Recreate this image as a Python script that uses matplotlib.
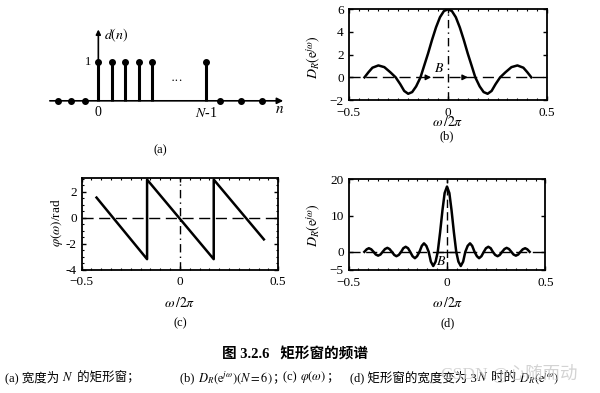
import numpy as np
import matplotlib.pyplot as plt
from matplotlib.ticker import MultipleLocator
from matplotlib.offsetbox import TextArea, HPacker, AnnotationBbox

plt.rcParams['font.family'] = ['Liberation Serif', 'Noto Sans CJK SC']
plt.rcParams['mathtext.fontset'] = 'stix'

# (a) 矩形窗序列 d(n)
n_on = [0, 1, 2, 3, 4, 8]
d_on = [1, 1, 1, 1, 1, 1]
n_off = [-3, -2, -1, 9, 10.6, 12.1]
d_off = [0, 0, 0, 0, 0, 0]

# (b) D_R(e^jw), N=6
wb = [-0.42, -0.40, -0.38, -0.35, -0.32, -0.29, -0.263, -0.24, -0.22, -0.20,
      -0.18, -0.16, -0.138, -0.12, -0.10, -0.08, -0.06, -0.04, -0.02, 0.0,
      0.02, 0.04, 0.06, 0.08, 0.10, 0.12, 0.138, 0.16, 0.18, 0.20,
      0.22, 0.24, 0.263, 0.29, 0.32, 0.35, 0.38, 0.40, 0.42]
Db = [0, 0.45, 0.85, 1.05, 0.9, 0.45, 0, -0.6, -1.2, -1.45,
      -1.3, -0.8, 0, 1.0, 2.1, 3.3, 4.4, 5.3, 5.85, 6.0,
      5.85, 5.3, 4.4, 3.3, 2.1, 1.0, 0, -0.8, -1.3, -1.45,
      -1.2, -0.6, 0, 0.45, 0.9, 1.05, 0.85, 0.45, 0]

# (c) 相位 phi(w)
wc = [-0.424, -0.167, -0.167, 0.172, 0.172, 0.427]
phic = [1.56, -3.2, 2.95, -3.2, 2.95, -1.67]

# (d) D_R(e^jw), 宽度 3N
wd = [-0.420, -0.408, -0.397, -0.385, -0.373, -0.362, -0.350, -0.338, -0.327,
      -0.315, -0.303, -0.292, -0.280, -0.268, -0.257, -0.245, -0.233, -0.222,
      -0.210, -0.198, -0.187, -0.175, -0.163, -0.152, -0.140, -0.128, -0.117,
      -0.105, -0.093, -0.082, -0.070, -0.058, -0.047, -0.035, -0.023, -0.012,
      0.0,
      0.012, 0.023, 0.035, 0.047, 0.058, 0.070, 0.082, 0.093, 0.105,
      0.117, 0.128, 0.140, 0.152, 0.163, 0.175, 0.187, 0.198, 0.210,
      0.222, 0.233, 0.245, 0.257, 0.268, 0.280, 0.292, 0.303, 0.315,
      0.327, 0.338, 0.350, 0.362, 0.373, 0.385, 0.397, 0.408, 0.420]
Dd = [0, 0.7, 1.0, 0.7, 0, -0.73, -1.05, -0.73, 0,
      0.78, 1.1, 0.78, 0, -0.85, -1.2, -0.85, 0, 1.0,
      1.4, 1.0, 0, -1.2, -1.75, -1.2, 0, 1.65, 2.35,
      1.65, 0, -2.7, -3.9, -2.7, 0, 5.4, 11.5, 16.2,
      18.0,
      16.2, 11.5, 5.4, 0, -2.7, -3.9, -2.7, 0, 1.65,
      2.35, 1.65, 0, -1.2, -1.75, -1.2, 0, 1.0, 1.4,
      1.0, 0, -0.85, -1.2, -0.85, 0, 0.78, 1.1, 0.78,
      0, -0.73, -1.05, -0.73, 0, 0.7, 1.0, 0.7, 0]

# 图注文字（按段落，数学部分单独排版）
cap_a = ['(a) 宽度为 ', '$N$', ' 的矩形窗；']
cap_b = ['(b) ', '$D_R(\\mathrm{e}^{j\\omega})(N=6)$', '；']
cap_c = ['(c) ', '$\\varphi(\\omega)$', '；']
cap_d = ['(d) 矩形窗的宽度变为 3', '$N$', ' 时的 ', '$D_R(\\mathrm{e}^{j\\omega})$']

fig = plt.figure(figsize=(6, 3.93), dpi=100)

# ---- (a)
ax_a = fig.add_axes([0.0667, 0.669, 0.4167, 0.28])
ax_a.set_xlim(-4.32, 14.2)
ax_a.set_ylim(-0.75, 2.07)
ax_a.axis('off')
ax_a.annotate('', xy=(13.9, 0), xytext=(-3.8, 0),
              arrowprops=dict(arrowstyle='-|>', lw=1.2, color='k', mutation_scale=9))
ax_a.annotate('', xy=(0, 1.9), xytext=(0, 0),
              arrowprops=dict(arrowstyle='-|>', lw=1.2, color='k', mutation_scale=7))
ax_a.vlines(n_on, 0, d_on, colors='k', lw=2.2)
ax_a.plot(n_on, d_on, 'o', color='k', ms=4)
ax_a.plot(n_off, d_off, 'o', color='k', ms=4)
ax_a.text(0.45, 1.68, '$d(n)$', fontsize=10, ha='left', va='center')
ax_a.text(-0.5, 0.99, '1', fontsize=9, ha='right', va='center')
ax_a.text(0, -0.3, '0', fontsize=10, ha='center', va='center')
ax_a.text(8, -0.3, '$N$-1', fontsize=10, ha='center', va='center')
ax_a.text(13.4, -0.22, '$n$', fontsize=11, ha='center', va='center')
ax_a.text(5.8, 0.5, '···', fontsize=9, ha='center', va='center')
fig.text(0.2667, 0.618, '(a)', fontsize=9, ha='center', va='center')


def style(ax):
    for s in ax.spines.values():
        s.set_linewidth(1.3)
    ax.tick_params(direction='in', which='both', top=True, right=True, labelsize=9.5)
    ax.tick_params(which='major', length=3, width=1)
    ax.tick_params(axis='x', which='major', pad=5)
    ax.tick_params(which='minor', length=1.5, width=0.8)
    ax.set_xlim(-0.5, 0.5)
    ax.set_xticks([-0.5, 0, 0.5])
    ax.set_xticklabels(['\u22120.5', '0', '0.5'])
    ax.xaxis.set_minor_locator(MultipleLocator(0.05))


# ---- (b)
ax_b = fig.add_axes([0.581, 0.7455, 0.331, 0.2308])
style(ax_b)
ax_b.set_ylim(-2, 6)
ax_b.set_yticks([-2, 0, 2, 4, 6])
ax_b.set_yticklabels(['\u22122', '0', '2', '4', '6'])
ax_b.axhline(0, color='k', lw=1, ls=(0, (8, 4)))
ax_b.axvline(0, color='k', lw=1, ls=(0, (6, 3, 1, 3)))
ax_b.plot(wb, Db, color='k', lw=1.8)
ax_b.annotate('', xy=(-0.07, 0), xytext=(-0.12, 0),
              arrowprops=dict(arrowstyle='-|>', lw=1, color='k', mutation_scale=8))
ax_b.annotate('', xy=(0.115, 0), xytext=(0.07, 0),
              arrowprops=dict(arrowstyle='-|>', lw=1, color='k', mutation_scale=8))
ax_b.text(-0.045, 0.75, '$B$', fontsize=10, ha='center', va='center')
fig.text(0.522, 0.855, '$D_R(\\mathrm{e}^{j\\omega})$', rotation=90, fontsize=10,
         ha='center', va='center')
fig.text(0.747, 0.69, '$\\omega\\,/2\\pi$', fontsize=10, ha='center', va='center')
fig.text(0.745, 0.653, '(b)', fontsize=9, ha='center', va='center')

# ---- (c)
ax_c = fig.add_axes([0.136, 0.3142, 0.3277, 0.2321])
style(ax_c)
ax_c.set_ylim(-4, 3.05)
ax_c.set_yticks([-4, -2, 0, 2])
ax_c.set_yticklabels(['-4', '-2', '0', '2'])
ax_c.yaxis.set_minor_locator(MultipleLocator(0.5))
ax_c.axhline(0, color='k', lw=1, ls=(0, (8, 4)))
ax_c.axvline(0, color='k', lw=1, ls=(0, (6, 3, 1, 3)))
ax_c.plot(wc, phic, color='k', lw=1.8)
fig.text(0.095, 0.4326, '$\\varphi(\\omega)$/rad', rotation=90, fontsize=9.5,
         ha='center', va='center')
fig.text(0.3, 0.229, '$\\omega\\,/2\\pi$', fontsize=10, ha='center', va='center')
fig.text(0.3, 0.178, '(c)', fontsize=9, ha='center', va='center')

# ---- (d)
ax_d = fig.add_axes([0.581, 0.313, 0.328, 0.2308])
style(ax_d)
ax_d.set_ylim(-5, 20)
ax_d.set_yticks([-5, 0, 10, 20])
ax_d.set_yticklabels(['\u22125', '0', '10', '20'])
ax_d.axhline(0, color='k', lw=1, ls=(0, (8, 4)))
ax_d.axvline(0, color='k', lw=1, ls=(0, (6, 3)))
ax_d.plot([-0.047, 0.047], [0, 0], color='k', lw=1)
ax_d.plot(wd, Dd, color='k', lw=1.8)
ax_d.text(-0.03, -2.6, '$B$', fontsize=10, ha='center', va='center')
fig.text(0.522, 0.427, '$D_R(\\mathrm{e}^{j\\omega})$', rotation=90, fontsize=10,
         ha='center', va='center')
fig.text(0.7467, 0.229, '$\\omega\\,/2\\pi$', fontsize=10, ha='center', va='center')
fig.text(0.7467, 0.178, '(d)', fontsize=9, ha='center', va='center')

# ---- 图题
fig.text(0.4925, 0.0967, '图 3.2.6   矩形窗的频谱', fontsize=10.5, fontweight='bold',
         ha='center', va='center')


def caption(parts, x, y, size=9):
    boxes = [TextArea(s, textprops=dict(fontsize=size)) for s in parts]
    pack = HPacker(children=boxes, align='baseline', pad=0, sep=0)
    ab = AnnotationBbox(pack, (x, y), xycoords='figure fraction',
                        box_alignment=(0, 0.5), frameon=False, pad=0)
    fig.add_artist(ab)


cap_y = 0.04
caption(cap_a, 0.008, cap_y)
caption(cap_b, 0.300, cap_y)
caption(cap_c, 0.472, cap_y)
caption(cap_d, 0.583, cap_y)
fig.text(0.735, 0.05, 'CSDN @心随而动', fontsize=12.5, color='#c8c8c8', alpha=0.8,
         ha='left', va='center')

fig.savefig('out.png', dpi=100)
